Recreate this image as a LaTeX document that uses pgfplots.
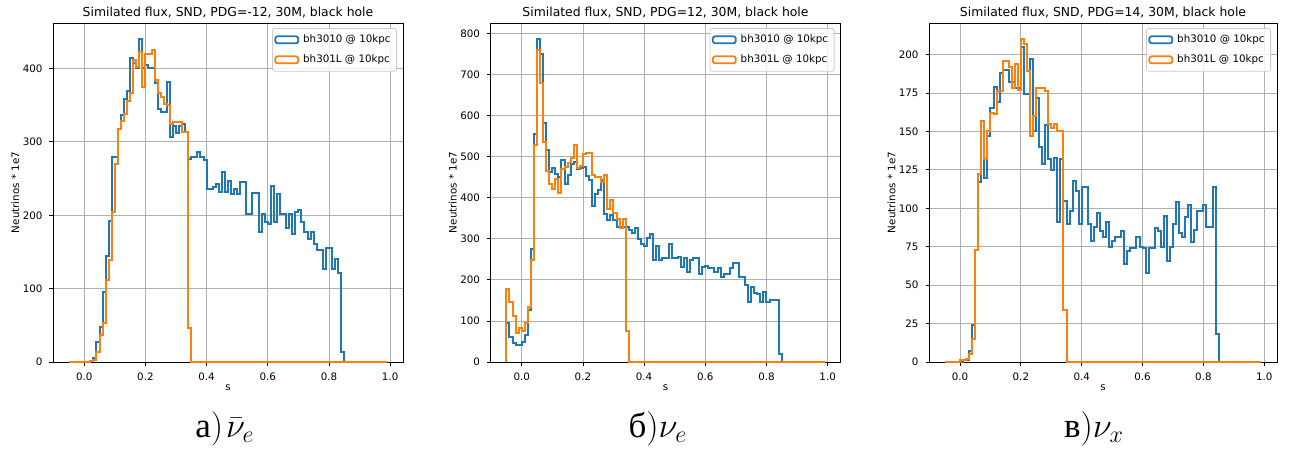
\documentclass[border=0pt]{standalone}
\usepackage{pgfplots}
\pgfplotsset{compat=1.18}
\usepackage{pgfplotstable}
\usepackage[no-math]{fontspec}
\setmainfont{DejaVu Sans}
\newfontfamily\capfont{Liberation Serif}
\definecolor{mblue}{HTML}{1F77B4}
\definecolor{morange}{HTML}{FF7F0E}

% bins of 0.01, value at the left edge of each bin
\pgfplotstableread{
x b o
-0.05 0 0
0.02 1 2
0.03 6 3
0.04 27 14
0.05 48 37
0.06 95 53
0.07 145 112
0.08 192 139
0.09 280 205
0.10 280 270
0.11 318 318
0.12 337 329
0.13 358 338
0.14 369 356
0.15 414 366
0.16 407 411
0.17 400 402
0.18 440 423
0.19 400 375
0.20 405 420
0.21 400 420
0.22 400 425
0.23 380 384
0.24 345 366
0.25 341 361
0.26 341 352
0.27 382 350
0.28 307 325
0.29 322 327
0.30 312 327
0.31 322 327
0.32 325 313
0.33 314 313
0.34 277 46
0.35 279 0
0.36 279 0
0.37 286 0
0.38 279 0
0.39 275 0
0.40 236 0
0.41 236 0
0.42 238 0
0.43 243 0
0.44 232 0
0.45 259 0
0.46 232 0
0.47 246 0
0.48 229 0
0.49 236 0
0.50 229 0
0.51 245 0
0.52 245 0
0.53 202 0
0.54 202 0
0.55 230 0
0.56 230 0
0.57 177 0
0.58 202 0
0.59 191 0
0.60 188 0
0.61 240 0
0.62 191 0
0.63 229 0
0.64 202 0
0.65 202 0
0.66 182 0
0.67 202 0
0.68 175 0
0.69 204 0
0.70 207 0
0.71 191 0
0.72 177 0
0.73 168 0
0.74 177 0
0.75 161 0
0.76 152 0
0.77 152 0
0.78 127 0
0.79 156 0
0.80 156 0
0.81 127 0
0.82 140 0
0.83 121 0
0.84 14 0
0.85 0 0
0.99 0 0
}\dA

\pgfplotstableread{
x b o
-0.05 0 0
-0.05 94 177
-0.04 62 147
-0.03 47 112
-0.02 41 70
-0.01 41 82
0.00 49 76
0.01 66 94
0.02 126 133
0.03 274 249
0.04 554 527
0.05 786 760
0.06 750 679
0.07 581 535
0.08 515 464
0.09 462 432
0.10 473 422
0.11 457 446
0.12 450 411
0.13 491 470
0.14 434 474
0.15 456 484
0.16 483 497
0.17 487 529
0.18 470 472
0.19 473 476
0.20 475 505
0.21 452 509
0.22 444 509
0.23 379 454
0.24 410 450
0.25 418 450
0.26 444 438
0.27 361 456
0.28 345 373
0.29 357 394
0.30 345 363
0.31 329 347
0.32 329 327
0.33 329 349
0.34 329 76
0.35 322 0
0.36 313 0
0.37 327 0
0.38 300 0
0.39 288 0
0.40 282 0
0.41 302 0
0.42 312 0
0.43 249 0
0.44 282 0
0.45 249 0
0.46 254 0
0.47 254 0
0.48 288 0
0.49 252 0
0.50 254 0
0.51 256 0
0.52 232 0
0.53 254 0
0.54 219 0
0.55 249 0
0.56 252 0
0.57 252 0
0.58 215 0
0.59 232 0
0.60 233 0
0.61 228 0
0.62 228 0
0.63 219 0
0.64 228 0
0.65 207 0
0.66 215 0
0.67 215 0
0.68 228 0
0.69 240 0
0.70 240 0
0.71 207 0
0.72 207 0
0.73 187 0
0.74 147 0
0.75 183 0
0.76 168 0
0.77 165 0
0.78 147 0
0.79 171 0
0.80 147 0
0.81 152 0
0.82 152 0
0.83 152 0
0.84 19 0
0.85 0 0
0.99 0 0
}\dB

\pgfplotstableread{
x b o
-0.05 0 0
0.00 0 1
0.01 1 1
0.02 1 2
0.03 7 5
0.04 24 15
0.05 73 73
0.06 117 122
0.07 157 157
0.08 120 132
0.09 147 150
0.10 165 162
0.11 179 161
0.12 169 176
0.13 188 176
0.14 190 196
0.15 190 196
0.16 182 192
0.17 182 178
0.18 178 194
0.19 178 177
0.20 205 210
0.21 174 207
0.22 174 189
0.23 197 147
0.24 150 160
0.25 172 178
0.26 140 178
0.27 129 178
0.28 154 176
0.29 132 155
0.30 125 152
0.31 133 155
0.32 91 150
0.33 132 150
0.34 105 34
0.35 90 0
0.36 98 0
0.37 118 0
0.38 111 0
0.39 90 0
0.40 114 0
0.41 114 0
0.42 90 0
0.43 79 0
0.44 88 0
0.45 97 0
0.46 85 0
0.47 81 0
0.48 91 0
0.49 75 0
0.50 79 0
0.51 81 0
0.52 81 0
0.53 85 0
0.54 64 0
0.55 72 0
0.56 74 0
0.57 74 0
0.58 81 0
0.59 75 0
0.60 74 0
0.61 58 0
0.62 74 0
0.63 74 0
0.64 87 0
0.65 85 0
0.66 75 0
0.67 95 0
0.68 66 0
0.69 75 0
0.70 90 0
0.71 104 0
0.72 84 0
0.73 81 0
0.74 94 0
0.75 102 0
0.76 78 0
0.77 86 0
0.78 98 0
0.79 98 0
0.80 102 0
0.81 88 0
0.82 88 0
0.83 114 0
0.84 18 0
0.85 0 0
0.99 0 0
}\dC

\pgfplotsset{
  snd/.style={
    scale only axis, width=175pt, height=169.5pt, anchor=south west,
    xmin=-0.102, xmax=1.042, ymin=0,
    xtick={0,0.2,0.4,0.6,0.8,1},
    xticklabel style={/pgf/number format/.cd,fixed,fixed zerofill,precision=1},
    /pgf/number format/assume math mode=true,
    tick label style={font=\fontsize{5.15}{6}\selectfont},
    tick align=outside, tick pos=left, major tick length=1.75pt,
    every tick/.style={black,line width=0.4pt},
    axis line style={line width=0.4pt},
    grid=major, major grid style={line width=0.4pt,draw=black!31},
    title style={font=\fontsize{6.2}{7}\selectfont,at={(axis description cs:0.5,1)},anchor=base,yshift=-2.75pt},
    xlabel={s},
    xlabel style={font=\fontsize{5.15}{6}\selectfont,at={(axis description cs:0.5,0)},anchor=base,yshift=-14.4pt},
    ylabel={Neutrinos * 1e7},
    ylabel style={font=\fontsize{5.15}{6}\selectfont,at={(axis description cs:-0.097,0.5)},anchor=base},
    legend style={at={(axis description cs:1,1)},anchor=north east,xshift=-3pt,yshift=-2.5pt,
      draw=black!20,fill=white,fill opacity=0.8,text opacity=1,rounded corners=1.2pt,
      font=\fontsize{5.15}{6}\selectfont,inner sep=1pt,row sep=0.6pt,cells={anchor=west}},
    legend image code/.code={\draw[#1,line width=0.9pt] (0pt,-1.75pt) rectangle (11.5pt,1.75pt);},
  },
  hb/.style={const plot mark left,mblue,line width=1.0pt},
  ho/.style={const plot mark left,morange,line width=1.0pt},
}

\begin{document}
\begin{tikzpicture}
\useasboundingbox (0,0) rectangle (647pt,226pt);

\begin{axis}[snd, at={(26.5pt,45pt)}, ymax=462, ytick={0,100,200,300,400},
  title={Similated flux, SND, PDG=-12, 30M, black hole}]
\addplot[hb] table[x=x,y=b]{\dA};
\addplot[ho] table[x=x,y=o]{\dA};
\legend{bh3010 @ 10kpc, bh301L @ 10kpc}
\end{axis}

\begin{axis}[snd, at={(245.25pt,45pt)}, ymax=825, ytick={0,100,...,800},
  title={Similated flux, SND, PDG=12, 30M, black hole}]
\addplot[hb] table[x=x,y=b]{\dB};
\addplot[ho] table[x=x,y=o]{\dB};
\legend{bh3010 @ 10kpc, bh301L @ 10kpc}
\end{axis}

\begin{axis}[snd, at={(464.5pt,45pt)}, width=174pt, ymax=220.5, ytick={0,25,...,200},
  title={Similated flux, SND, PDG=14, 30M, black hole}]
\addplot[hb] table[x=x,y=b]{\dC};
\addplot[ho] table[x=x,y=o]{\dC};
\legend{bh3010 @ 10kpc, bh301L @ 10kpc}
\end{axis}

\node[anchor=base,font=\fontsize{17.5}{20}\selectfont] at (112.5pt,7.5pt) {\capfont а$)\mkern1.5mu\bar{\nu}_e$};
\node[anchor=base,font=\fontsize{17.5}{20}\selectfont] at (329pt,7.5pt) {\capfont б$)\nu_e$};
\node[anchor=base,font=\fontsize{17.5}{20}\selectfont] at (547pt,7.5pt) {\capfont в$)\nu_x$};
\end{tikzpicture}
\end{document}
